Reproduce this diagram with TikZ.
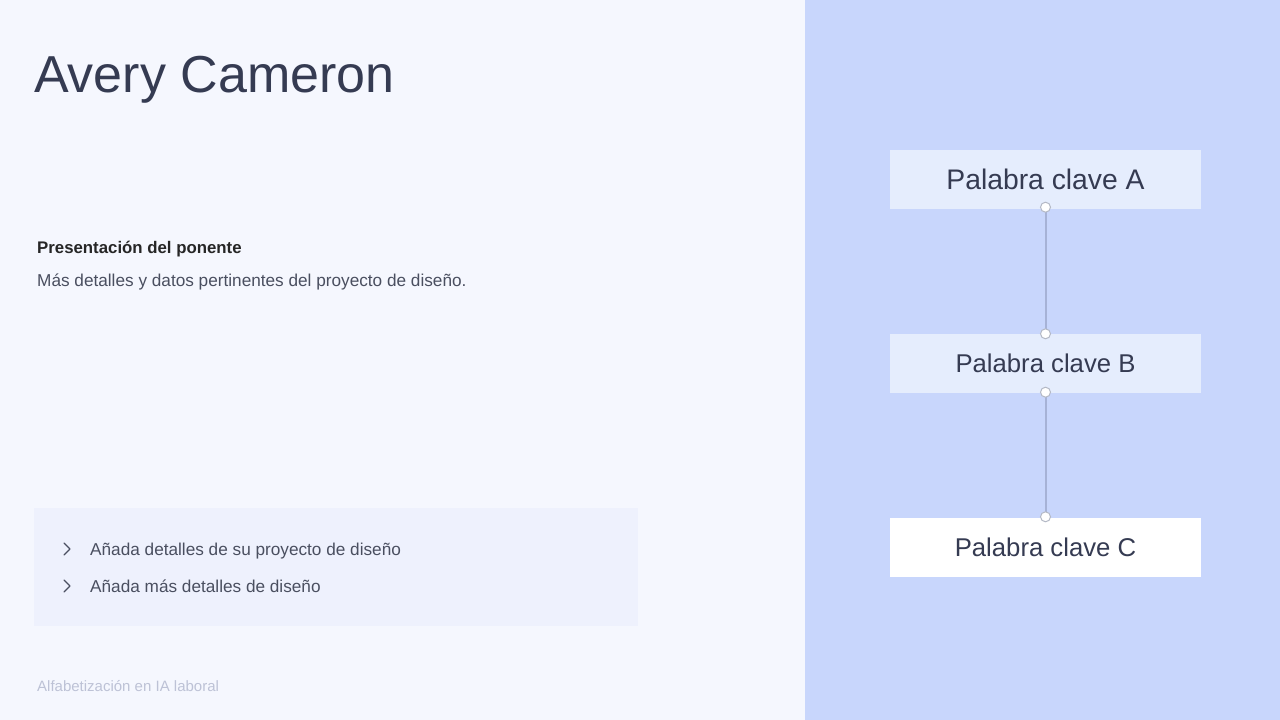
\documentclass[tikz,border=0pt]{standalone}
\usepackage{fontspec}
\setmainfont{Liberation Sans}
\begin{document}
\begin{tikzpicture}[x=1pt,y=-1pt,
  kwbox/.style={rectangle, minimum width=311pt, minimum height=59pt, inner sep=0pt, text=titlecol},
  dot/.style={circle, fill=white, draw=dotcol, line width=1pt, minimum size=10pt, inner sep=0pt},
  link/.style={draw=linkcol, line width=2pt},
  chev/.style={draw=textcol, line width=1.1pt, line cap=round, line join=round}]
\definecolor{leftbg}{HTML}{F5F7FE}
\definecolor{rightbg}{HTML}{C8D6FC}
\definecolor{boxab}{HTML}{E5EDFD}
\definecolor{bulletbg}{HTML}{EEF1FD}
\definecolor{titlecol}{HTML}{353B52}
\definecolor{textcol}{HTML}{4A4F60}
\definecolor{footcol}{HTML}{BDC2D6}
\definecolor{linkcol}{HTML}{A6B2D6}
\definecolor{dotcol}{HTML}{B4B9C6}
\useasboundingbox (0,0) rectangle (1280,720);
\fill[leftbg] (0,0) rectangle (805,720);
\fill[rightbg] (805,0) rectangle (1280,720);
% title
\node[anchor=base west, inner sep=0pt, text=titlecol, font=\fontsize{52}{58}\selectfont] (title) at (34,92) {Avery Cameron};
% subtitle
\node[anchor=base west, inner sep=0pt, text=black!85, font=\fontsize{16.8}{20}\selectfont\bfseries] (sub) at (37,253) {Presentación del ponente};
\node[anchor=base west, inner sep=0pt, text=textcol, font=\fontsize{17.2}{20}\selectfont] (desc) at (37,286) {Más detalles y datos pertinentes del proyecto de diseño.};
% bullet panel
\fill[bulletbg] (34,508) rectangle (638,626);
\draw[chev] (64,543) -- (70,549) -- (64,555);
\draw[chev] (64,580) -- (70,586) -- (64,592);
\node[anchor=base west, inner sep=0pt, text=textcol, font=\fontsize{17.2}{20}\selectfont] (b1) at (90,555) {Añada detalles de su proyecto de diseño};
\node[anchor=base west, inner sep=0pt, text=textcol, font=\fontsize{17.2}{20}\selectfont] (b2) at (90,592) {Añada más detalles de diseño};
% footer
\node[anchor=base west, inner sep=0pt, text=footcol, font=\fontsize{15}{18}\selectfont] (foot) at (37,691) {Alfabetización en IA laboral};
% keyword boxes
\node[kwbox, fill=boxab, font=\fontsize{28.3}{32}\selectfont] (A) at (1045.5,179.5) {Palabra clave A};
\node[kwbox, fill=boxab, font=\fontsize{25.7}{30}\selectfont] (B) at (1045.5,363.5) {Palabra clave B};
\node[kwbox, fill=white, font=\fontsize{25.7}{30}\selectfont] (C) at (1045.5,547.5) {Palabra clave C};
\draw[link] (A.south) -- (B.north);
\draw[link] (B.south) -- (C.north);
\node[dot] at ([yshift=2pt]A.south) {};
\node[dot] at (B.north) {};
\node[dot] at ([yshift=1pt]B.south) {};
\node[dot] at ([yshift=1pt]C.north) {};
\end{tikzpicture}
\end{document}
